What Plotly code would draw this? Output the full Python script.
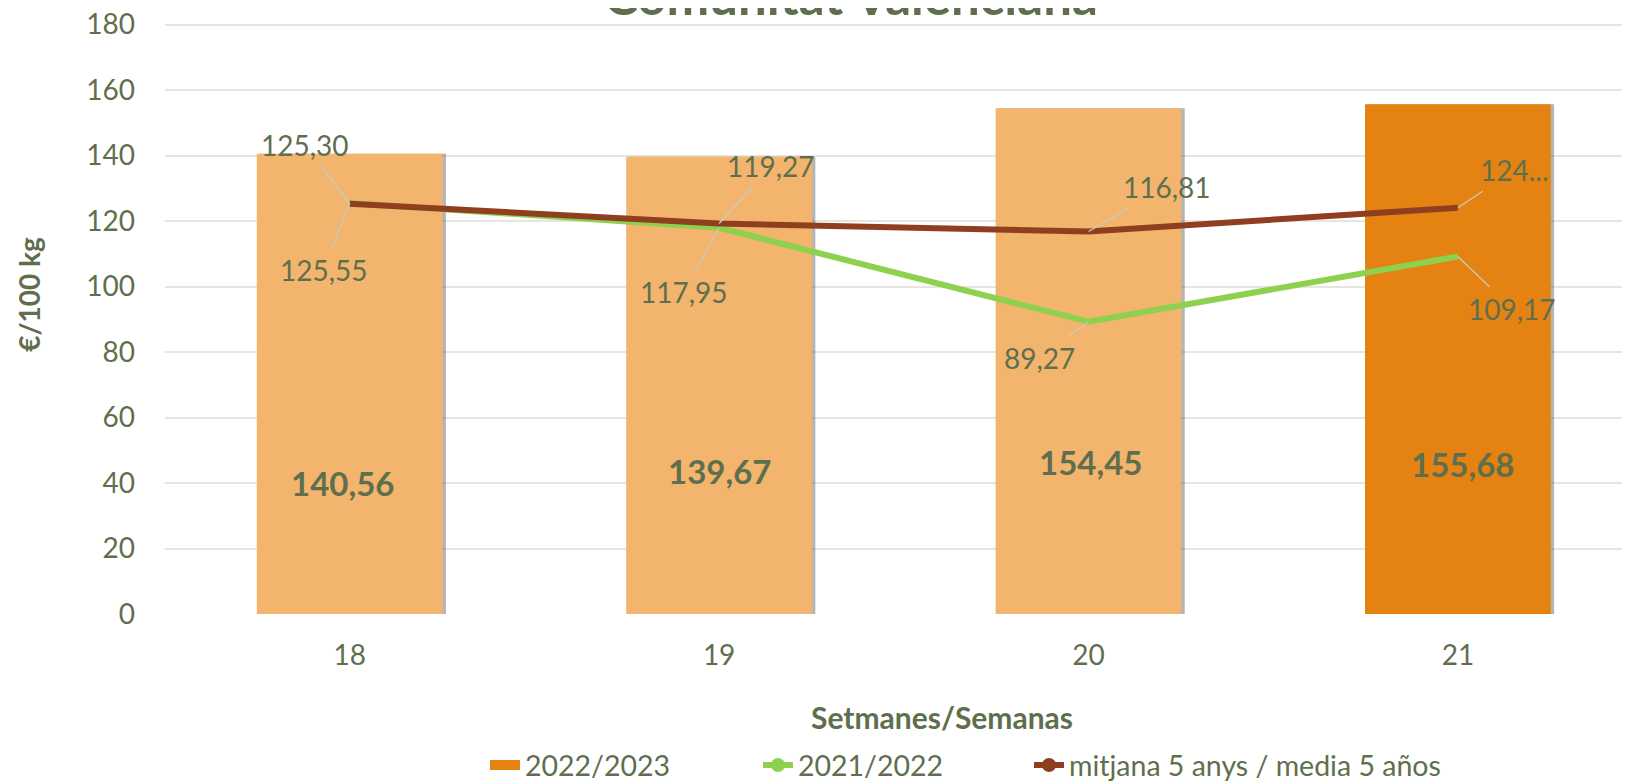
import plotly.graph_objects as go

# ---- data ----
weeks = ["18", "19", "20", "21"]
v_2022_2023 = [140.56, 139.67, 154.45, 155.68]
v_2021_2022 = [125.55, 117.95, 89.27, 109.17]
v_mitjana = [125.30, 119.27, 116.81, 124.10]
series_names = ["2022/2023", "2021/2022", "mitjana 5 anys / media 5 años"]

# ---- styles ----
FONT = "Lato"
TXT = "#5F6F4E"
C_BAR_LIGHT = "#F3B46D"
C_BAR_DARK = "#E48212"
C_GREEN = "#8ED14E"
C_BROWN = "#8F3F1F"
C_LEADER = "#C8CCBE"
GRID = "#E6E6E0"

# page body has an 8px margin: figure coordinates = screen coordinates - 8
W, H = 1630, 781
Y_MAX = 180.5
L, B = 157, 175
T = 17 - (Y_MAX - 180) * (H - 17 - B) / 180
PW, PH = W - L, H - T - B

def px_x(sx):  # screen x -> paper x
    return (sx - 8 - L) / PW

def px_y(sy):  # screen y -> paper y
    return (H - B - (sy - 8)) / PH

def fmt(v):
    return f"{v:.2f}".replace(".", ",")

xi = list(range(len(weeks)))
bar_colors = [C_BAR_LIGHT] * (len(weeks) - 1) + [C_BAR_DARK]
BAR_W = 0.503

fig = go.Figure()
# soft shadow behind the bars
fig.add_trace(go.Bar(x=xi, y=v_2022_2023, marker_color="rgba(70,70,70,0.4)", width=BAR_W,
                     offset=-BAR_W / 2 + 0.009, showlegend=False, hoverinfo="skip"))
fig.add_trace(go.Bar(x=xi, y=v_2022_2023, marker_color=bar_colors, width=BAR_W,
                     offset=-BAR_W / 2, showlegend=False, hoverinfo="skip"))
fig.add_trace(go.Scatter(x=xi, y=v_2021_2022, mode="lines",
                         line=dict(color=C_GREEN, width=6), showlegend=False))
fig.add_trace(go.Scatter(x=xi, y=v_mitjana, mode="lines",
                         line=dict(color=C_BROWN, width=6), showlegend=False))

# legend-only traces (one legend per entry to mimic spacing)
fig.add_trace(go.Scatter(x=[None], y=[None], name=series_names[0], mode="lines",
                         line=dict(color=C_BAR_DARK, width=18), legend="legend"))
fig.add_trace(go.Scatter(x=[None], y=[None], name=series_names[1], mode="lines+markers",
                         line=dict(color=C_GREEN, width=6), marker=dict(size=14, color=C_GREEN),
                         legend="legend2"))
fig.add_trace(go.Scatter(x=[None], y=[None], name=series_names[2], mode="lines+markers",
                         line=dict(color=C_BROWN, width=6), marker=dict(size=14, color=C_BROWN),
                         legend="legend3"))

annotations = []
# bar value labels (bold, inside bars)
bar_label_y = [39.9, 43.6, 46.5, 45.8]
bar_label_dx = [-7, 0, 2, 5]
for x, v, ly, dx in zip(xi, v_2022_2023, bar_label_y, bar_label_dx):
    annotations.append(dict(x=x, y=ly, xref="x", yref="y", text=f"<b>{fmt(v)}</b>", xshift=dx,
                            showarrow=False, font=dict(family=FONT, size=33, color=TXT)))

# line labels with leader lines (offsets in px)
green_off = [(-26, 67), (-35, 64), (-49, 36), (54, 52)]
brown_off = [(-45, -59), (52, -57), (78, -45), (57, -38)]
brown_text = [fmt(v) for v in v_mitjana]
brown_text[-1] = brown_text[-1][:3] + "..."
for x, v, (ax, ay) in zip(xi, v_2021_2022, green_off):
    annotations.append(dict(x=x, y=v, xref="x", yref="y", text=fmt(v), showarrow=True,
                            arrowhead=0, arrowwidth=1.3, arrowcolor=C_LEADER, ax=ax, ay=ay,
                            borderpad=4, font=dict(family=FONT, size=28, color=TXT)))
for x, v, t, (ax, ay) in zip(xi, v_mitjana, brown_text, brown_off):
    annotations.append(dict(x=x, y=v, xref="x", yref="y", text=t, showarrow=True,
                            arrowhead=0, arrowwidth=1.3, arrowcolor=C_LEADER, ax=ax, ay=ay,
                            borderpad=4, font=dict(family=FONT, size=28, color=TXT)))

# title (partly cut at the top) and axis titles
annotations.append(dict(x=px_x(851), y=px_y(-4), xref="paper", yref="paper",
                        xanchor="center", yanchor="middle",
                        text="<b>Comunitat Valenciana</b>", showarrow=False,
                        font=dict(family=FONT, size=51, color=TXT)))
annotations.append(dict(x=px_x(942), y=px_y(717), xref="paper", yref="paper",
                        xanchor="center", yanchor="middle",
                        text="<b>Setmanes/Semanas</b>", showarrow=False,
                        font=dict(family=FONT, size=30, color=TXT)))
annotations.append(dict(x=px_x(29), y=px_y(295), xref="paper", yref="paper", textangle=-90,
                        xanchor="center", yanchor="middle",
                        text="<b>€/100 kg</b>", showarrow=False,
                        font=dict(family=FONT, size=28, color=TXT)))

leg_common = dict(orientation="h", xanchor="left", yanchor="middle", xref="container",
                  yref="container", y=1 - 757.5 / H, bgcolor="rgba(0,0,0,0)",
                  font=dict(family=FONT, size=28.5, color=TXT), itemclick=False)

fig.update_layout(
    template="none",
    width=W, height=H,
    margin=dict(l=L, r=0, t=T, b=B, autoexpand=False),
    plot_bgcolor="white", paper_bgcolor="white",
    font=dict(family=FONT, size=28, color=TXT),
    annotations=annotations,
    barmode="overlay",
    legend=dict(x=477 / W, **leg_common),
    legend2=dict(x=750 / W, **leg_common),
    legend3=dict(x=1021 / W, **leg_common),
)
fig.update_xaxes(range=[-0.5, 3.4875], tickvals=xi, ticktext=weeks, showgrid=False,
                 showline=False, zeroline=False, ticks="", ticklabelstandoff=22,
                 ticklabeloverflow="allow",
                 automargin=False, tickfont=dict(family=FONT, size=28, color=TXT))
fig.update_yaxes(range=[0, Y_MAX], tickvals=list(range(0, 181, 20)), showgrid=True,
                 gridcolor=GRID, gridwidth=1.5, ticklabeloverflow="allow",
                 zeroline=False, showline=False, ticks="", ticklabelstandoff=29,
                 automargin=False, tickfont=dict(family=FONT, size=28, color=TXT))

fig.write_html("out.html")
